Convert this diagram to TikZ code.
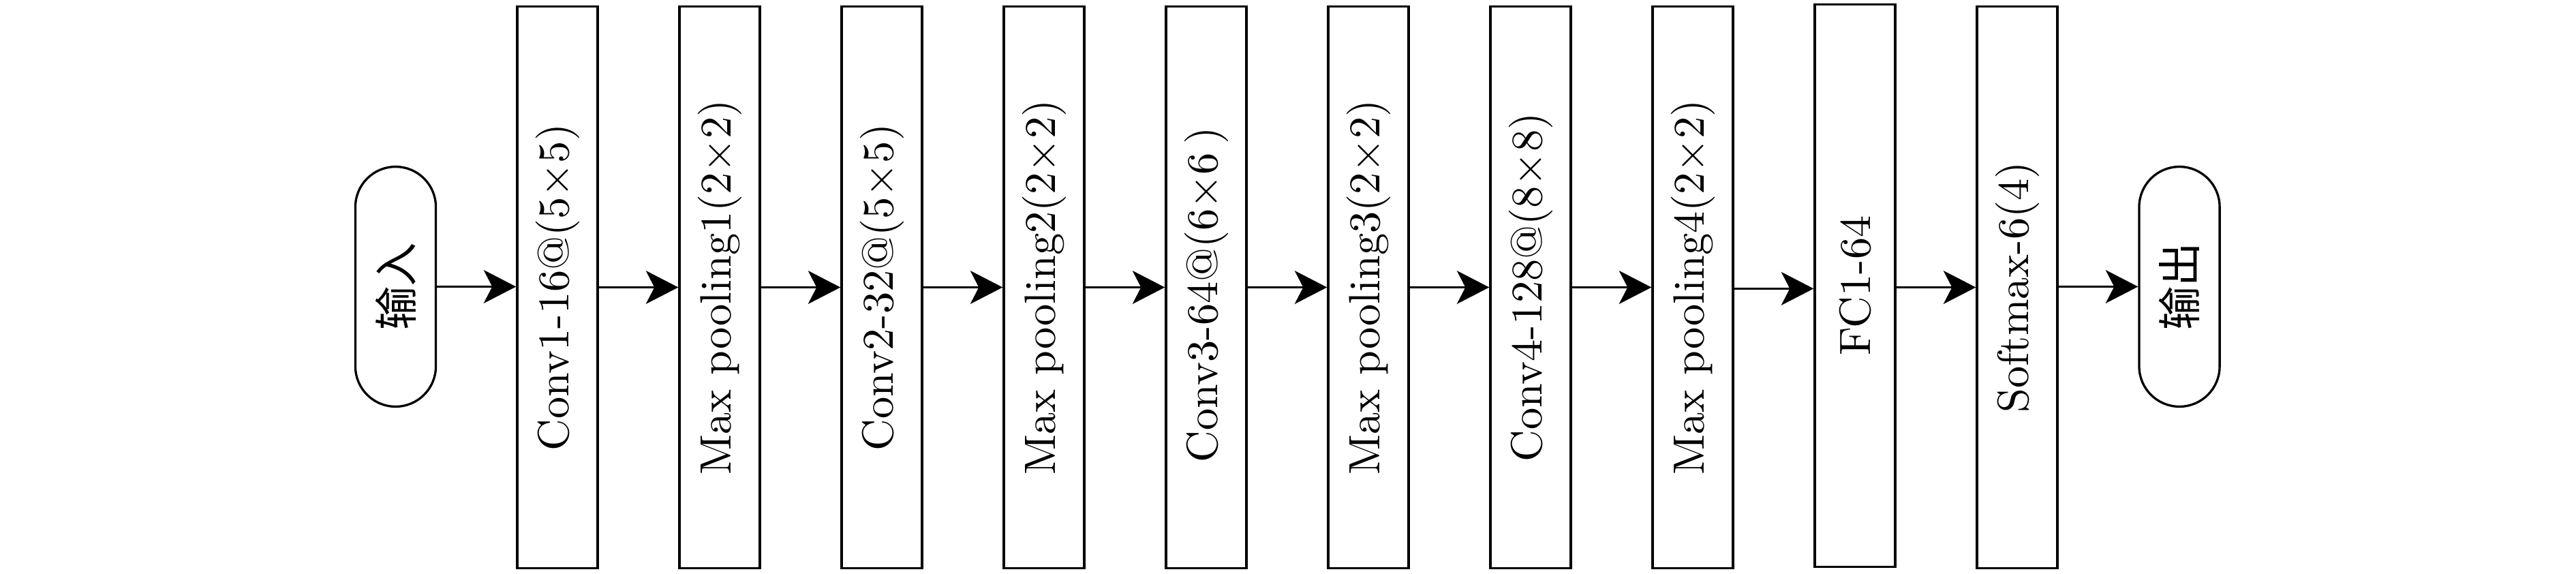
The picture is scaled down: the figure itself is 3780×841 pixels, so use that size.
\documentclass[tikz,border=0pt]{standalone}
\usepackage{fontspec}
\usepackage{graphicx}
\newfontfamily\cjk{Noto Sans CJK SC}
\usetikzlibrary{arrows.meta}
\begin{document}
\begin{tikzpicture}[x=0.16pt,y=-0.16pt,
  every node/.style={font=\fontsize{10.3}{12}\selectfont},
  layer/.style={draw, line width=0.53pt, minimum width=18.9pt, minimum height=131.8pt, inner sep=0pt},
  term/.style={draw, line width=0.53pt, rounded corners=9.45pt, minimum width=18.9pt, minimum height=56.3pt, inner sep=0pt},
  conn/.style={-{Stealth[length=7.6pt,width=7.8pt,inset=2pt]}, line width=0.53pt}
]
\useasboundingbox (0,0) rectangle (3780,841);
\node[term]  (in)  at (580.5,420.5) {\rotatebox{90}{\cjk 输入}};
\node[layer] (c1)  at (818,421.5)  {\rotatebox{90}{Conv1-16@(5×5)}};
\node[layer] (p1)  at (1056,421.5) {\rotatebox{90}{Max pooling1(2×2)}};
\node[layer] (c2)  at (1294,421.5) {\rotatebox{90}{Conv2-32@(5×5)}};
\node[layer] (p2)  at (1532,421.5) {\rotatebox{90}{Max pooling2(2×2)}};
\node[layer] (c3)  at (1770,421.5) {\rotatebox{90}{Conv3-64@(6×6\kern2pt)\kern3.5pt}};
\node[layer] (p3)  at (2008,421.5) {\rotatebox{90}{Max pooling3(2×2)}};
\node[layer] (c4)  at (2246,421.5) {\rotatebox{90}{Conv4-128@(8×8)}};
\node[layer] (p4)  at (2484,421.5) {\rotatebox{90}{Max pooling4(2×2)}};
\node[layer, minimum height=132.1pt] (fc) at (2722,419) {\rotatebox{90}{FC1-64}};
\node[layer] (sm)  at (2960,421.5) {\rotatebox{90}{Softmax-6(4)}};
\node[term]  (out) at (3198,420.5) {\rotatebox{90}{\cjk 输出}};
\draw[conn] (in.east) -- (c1.west |- in.east);
\draw[conn] (c1) -- (p1);
\draw[conn] (p1) -- (c2);
\draw[conn] (c2) -- (p2);
\draw[conn] (p2) -- (c3);
\draw[conn] (c3) -- (p3);
\draw[conn] (p3) -- (c4);
\draw[conn] (c4) -- (p4);
\draw[conn] ([yshift=-0.3pt]p4.east) -- ([yshift=-0.3pt]p4.east -| fc.west);
\draw[conn] (fc.east |- sm.east) -- (sm.west);
\draw[conn] (sm.east |- out.east) -- (out.west);
\end{tikzpicture}
\end{document}
